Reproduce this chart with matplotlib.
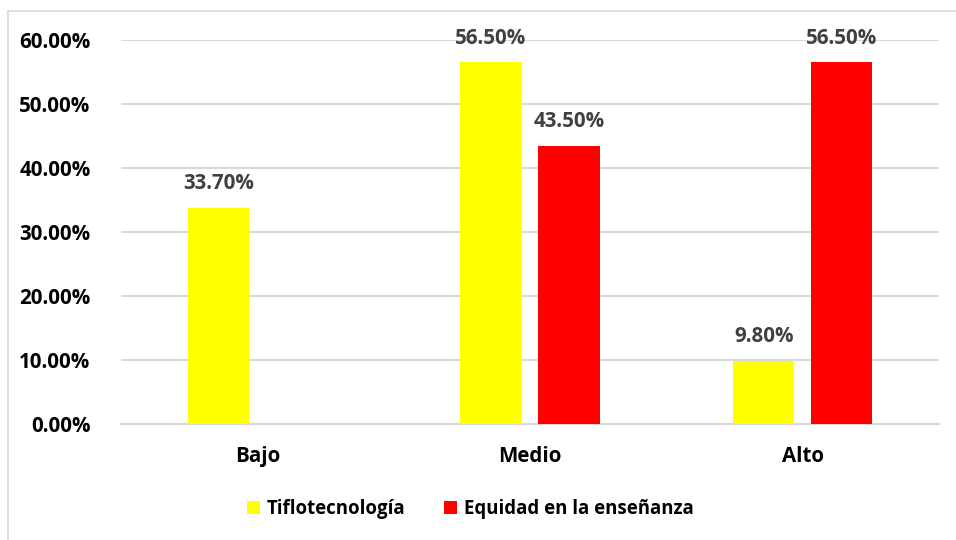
import matplotlib.pyplot as plt
import numpy as np
from matplotlib.patches import Rectangle

# data
categories = ["Bajo", "Medio", "Alto"]
series_names = ["Tiflotecnología", "Equidad en la enseñanza"]
tiflo = [33.70, 56.50, 9.80]
equidad = [0.0, 43.50, 56.50]
colors = ["#FFFF00", "#FF0000"]
yticks = [0, 10, 20, 30, 40, 50, 60]

plt.rcParams["font.family"] = ["Open Sans", "DejaVu Sans"]
plt.rcParams["font.weight"] = "bold"

fig = plt.figure(figsize=(9.56, 5.4), dpi=100)
# outer chart border (light gray, cut off at right/bottom like the reference)
fig.patches.append(Rectangle((8 / 956, -0.05), 1.1, (540 - 11) / 540 + 0.05,
                             transform=fig.transFigure, fill=False,
                             edgecolor="#d9d9d9", linewidth=1.2))

ax = fig.add_axes([121 / 956, 1 - 424 / 540, (939 - 121) / 956, (424 - 40) / 540])

x = np.arange(len(categories))
w = 0.226
off = 0.143
b1 = ax.bar(x - off, tiflo, w, color=colors[0], label=series_names[0], zorder=3)
b2 = ax.bar(x + off, equidad, w, color=colors[1], label=series_names[1], zorder=3)

for bars, vals in ((b1, tiflo), (b2, equidad)):
    for rect, v in zip(bars, vals):
        if v == 0:
            continue
        ax.annotate(f"{v:.2f}%", (rect.get_x() + rect.get_width() / 2, v),
                    xytext=(0, 10), textcoords="offset points",
                    ha="center", va="bottom", fontsize=14.8, fontweight="bold",
                    color="#404040")

ax.set_xlim(-0.5, 2.5)
ax.set_ylim(0, 60)
ax.set_yticks(yticks)
ax.set_yticklabels([f"{t:.2f}%" for t in yticks], fontsize=14.8, fontweight="bold")
ax.set_xticks(x)
ax.set_xticklabels(categories, fontsize=14.8, fontweight="bold")
ax.tick_params(axis="x", length=0, pad=16)
ax.tick_params(axis="y", length=0, pad=22)
ax.yaxis.grid(True, color="#d9d9d9", linewidth=1.5, zorder=0)
ax.set_axisbelow(True)
for s in ["left", "right", "top"]:
    ax.spines[s].set_visible(False)
ax.spines["bottom"].set_color("#d9d9d9")
ax.spines["bottom"].set_linewidth(1.5)

fig.legend(handles=[b1, b2], labels=series_names, loc="center",
           bbox_to_anchor=(470 / 956, 1 - 509 / 540), ncol=2, frameon=False,
           prop={"size": 13.4, "weight": "bold"}, handlelength=0.7,
           handleheight=0.7, handletextpad=0.35, columnspacing=2.1)

fig.savefig("out.png", dpi=100)
